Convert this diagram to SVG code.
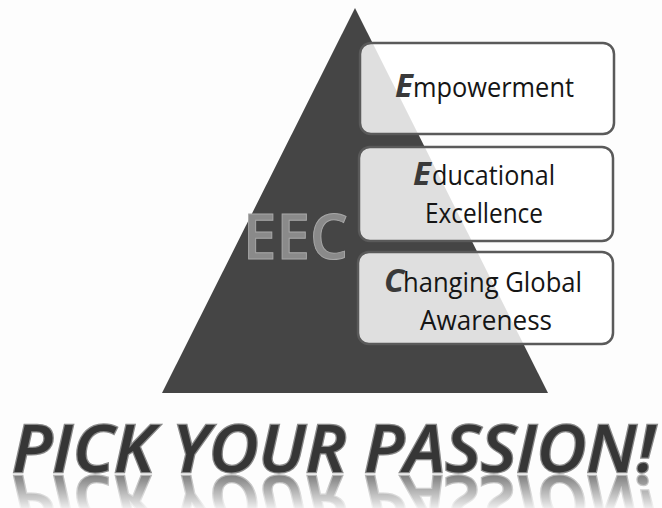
<svg xmlns="http://www.w3.org/2000/svg" width="662" height="508" viewBox="0 0 662 508">
  <style>
    .box { fill: #ffffff; fill-opacity: 0.83; stroke: #5a5a5a; stroke-width: 2.5; }
    .cap { font-family: "Open Sans", "Liberation Sans", sans-serif; font-weight: bold; font-style: italic; font-size: 33px; fill: #3a3a3a; }
    .lbl { font-family: "Open Sans", "Liberation Sans", sans-serif; font-size: 27px; fill: #151515; }
    .eec { font-family: "Open Sans", "Liberation Sans", sans-serif; font-weight: 600; font-size: 64px; fill: #8a8a8a; stroke: #a8a8a8; stroke-width: 1; }
    .title { font-family: "Open Sans", "Liberation Sans", sans-serif; font-weight: 600; font-style: italic; font-size: 66px; fill: #363636; stroke: #8a8a8a; stroke-width: 2.5; paint-order: stroke fill; }
  </style>
  <defs>
    <linearGradient id="fade" x1="0" y1="474" x2="0" y2="510" gradientUnits="userSpaceOnUse">
      <stop offset="0" stop-color="#fff" stop-opacity="0.65"/>
      <stop offset="1" stop-color="#fff" stop-opacity="0.05"/>
    </linearGradient>
    <mask id="reflMask" maskUnits="userSpaceOnUse" x="0" y="472" width="662" height="40">
      <rect x="0" y="472" width="662" height="40" fill="url(#fade)"/>
    </mask>
  </defs>
  <rect width="662" height="508" fill="#fdfdfd"/>

  <g id="pyramid">
    <polygon points="355,8 162,393 548,393" fill="#454545"/>
  </g>

  <g id="eec-label">
    <text class="eec" x="243" y="259" textLength="105" lengthAdjust="spacingAndGlyphs">EEC</text>
  </g>

  <g id="box-empowerment">
    <rect class="box" x="360" y="43" width="254" height="91" rx="11"/>
    <text class="cap" x="395" y="97">E</text>
    <text class="lbl" x="413" y="97" textLength="161" lengthAdjust="spacingAndGlyphs">mpowerment</text>
  </g>

  <g id="box-educational">
    <rect class="box" x="359" y="147" width="254" height="94" rx="11"/>
    <text class="cap" x="413" y="185">E</text>
    <text class="lbl" x="432" y="185" textLength="123" lengthAdjust="spacingAndGlyphs">ducational</text>
    <text class="lbl" x="425" y="223" textLength="118" lengthAdjust="spacingAndGlyphs">Excellence</text>
  </g>

  <g id="box-changing">
    <rect class="box" x="358" y="252" width="255" height="92" rx="11"/>
    <text class="cap" x="384" y="292">C</text>
    <text class="lbl" x="403" y="292" textLength="179" lengthAdjust="spacingAndGlyphs">hanging Global</text>
    <text class="lbl" x="420" y="330" textLength="132" lengthAdjust="spacingAndGlyphs">Awareness</text>
  </g>

  <g id="connectors"/>

  <g id="title">
    <text id="titleText" class="title" x="12" y="472" textLength="643" lengthAdjust="spacingAndGlyphs">PICK YOUR PASSION!</text>
    <g mask="url(#reflMask)">
      <use href="#titleText" transform="translate(0,948) scale(1,-1)"/>
    </g>
  </g>
</svg>
